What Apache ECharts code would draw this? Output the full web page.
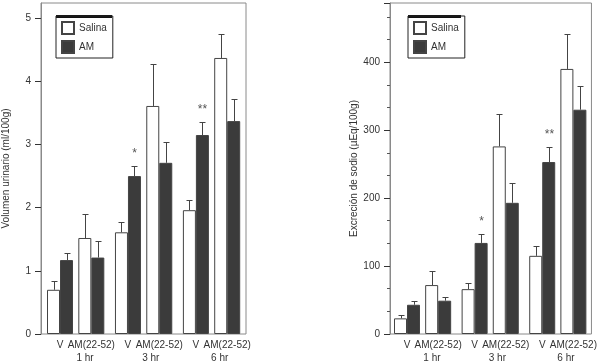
<!DOCTYPE html>
<html>
<head>
<meta charset="utf-8">
<title>Volumen urinario y excreción de sodio</title>
<script src="https://cdn.jsdelivr.net/npm/echarts@6/dist/echarts.min.js"></script>
<style>
  html, body { margin: 0; padding: 0; background: #fff; }
  #chart { width: 600px; height: 364px; }
</style>
</head>
<body>
<div id="chart"></div>
<script>
// x positions of each V / AM(22-52) pair, a little wider gap between time points
const pairLabels = ['V', 'AM(22-52)', 'V', 'AM(22-52)', 'V', 'AM(22-52)']
const pairPos = [0, 1, 2.17, 3.17, 4.34, 5.34]
const hourLabels = ['1 hr', '3 hr', '6 hr']
const hourPos = [0.8, 2.9, 5.1]

// urinary volume (ml/100g)
const volSalina = [0.70, 1.52, 1.61, 3.61, 1.96, 4.37]
const volSalinaErr = [0.14, 0.38, 0.17, 0.66, 0.16, 0.38]
const volAM = [1.17, 1.21, 2.50, 2.71, 3.15, 3.37]
const volAMErr = [0.11, 0.27, 0.16, 0.33, 0.21, 0.35]

// sodium excretion (µEq/100g)
const naSalina = [23, 72, 66, 276, 115, 390]
const naSalinaErr = [5, 20, 9, 48, 15, 51]
const naAM = [43, 49, 134, 193, 253, 330]
const naAMErr = [5, 5, 13, 29, 22, 35]

// significance marks over the AM bars
const sigMarks = ['', '', '*', '', '**', '']

const BAR_W = 13
const FONT = 'Liberation Sans, Arial, sans-serif'
const INK = '#333'
const FRAME = '#8a8a8a'

const chart = echarts.init(document.getElementById('chart'))

function barSeries(name, panel, values, fill) {
  return {
    type: 'bar',
    name: name,
    xAxisIndex: panel * 2,
    yAxisIndex: panel,
    barWidth: BAR_W,
    barGap: '0%',
    data: pairPos.map((x, i) => [x, values[i]]),
    itemStyle: { color: fill, borderColor: '#444', borderWidth: 1 },
    emphasis: { disabled: true }
  }
}

function errorSeries(name, panel, values, errs, side, marks) {
  return {
    type: 'custom',
    name: name,
    xAxisIndex: panel * 2,
    yAxisIndex: panel,
    z: 3,
    data: pairPos.map((x, i) => [x, values[i], errs[i]]),
    renderItem: function (params, api) {
      const x = api.value(0)
      const m = api.value(1)
      const e = api.value(2)
      const base = api.coord([x, m])
      const tip = api.coord([x, m + e])
      const cx = Math.round(base[0] + side * BAR_W / 2) + 0.5
      const ty = Math.round(tip[1]) + 0.5
      const stroke = { stroke: '#444', lineWidth: 1 }
      const children = [
        { type: 'line', shape: { x1: cx, y1: base[1], x2: cx, y2: ty }, style: stroke },
        { type: 'line', shape: { x1: cx - 3, y1: ty, x2: cx + 3, y2: ty }, style: stroke }
      ]
      const mark = marks && marks[params.dataIndex]
      if (mark) {
        children.push({
          type: 'text',
          style: {
            text: mark, x: cx, y: ty - 13,
            align: 'center', verticalAlign: 'middle',
            fill: '#555', font: '12px ' + FONT
          }
        })
      }
      return { type: 'group', children: children }
    }
  }
}

function xAxes(grid, min, max) {
  return [
    {
      type: 'value', gridIndex: grid, min: min, max: max, position: 'bottom',
      axisLine: { show: false, onZero: false }, axisTick: { show: false }, splitLine: { show: false },
      axisLabel: {
        customValues: pairPos,
        formatter: v => pairLabels[pairPos.findIndex(p => Math.abs(p - v) < 1e-6)],
        color: INK, fontSize: 10, fontFamily: FONT, margin: 6
      }
    },
    {
      type: 'value', gridIndex: grid, min: min, max: max, position: 'bottom',
      axisLine: { show: false, onZero: false }, axisTick: { show: false }, splitLine: { show: false },
      axisLabel: {
        customValues: hourPos,
        formatter: v => hourLabels[hourPos.findIndex(p => Math.abs(p - v) < 1e-6)],
        color: INK, fontSize: 10, fontFamily: FONT, margin: 19
      }
    }
  ]
}

function yAxis(grid, max, interval, name, minor) {
  return {
    type: 'value', gridIndex: grid, min: 0, max: max, interval: interval, position: 'left',
    name: name, nameLocation: 'middle', nameGap: 30,
    nameTextStyle: { color: INK, fontSize: 10, fontFamily: FONT },
    axisLine: { show: true, onZero: false, lineStyle: { color: FRAME } },
    splitLine: { show: false },
    axisTick: { show: true, length: 6, lineStyle: { color: '#333' } },
    minorTick: { show: minor, splitNumber: 3, length: 3, lineStyle: { color: '#555' } },
    axisLabel: { color: INK, fontSize: 10, fontFamily: FONT, margin: 10, showMaxLabel: false }
  }
}

function legendBox(left) {
  return {
    left: left, top: 16, orient: 'vertical',
    data: ['Salina', 'AM'],
    icon: 'rect', itemWidth: 12, itemHeight: 12, itemGap: 5,
    padding: [5, 6, 4, 5],
    borderColor: '#222', borderWidth: 1,
    selectedMode: false,
    textStyle: { color: INK, fontSize: 10, fontFamily: FONT }
  }
}

const option = {
  animation: false,
  textStyle: { fontFamily: FONT },
  grid: [
    { left: 41, top: 3, width: 205, height: 331, show: true, borderColor: FRAME, borderWidth: 1 },
    { left: 390, top: 3, width: 205, height: 331, show: true, borderColor: FRAME, borderWidth: 1 }
  ],
  legend: [legendBox(56), legendBox(408)],
  graphic: [
    { type: 'rect', shape: { x: 56, y: 15, width: 56, height: 3 }, style: { fill: '#111' } },
    { type: 'rect', shape: { x: 408, y: 15, width: 53, height: 3 }, style: { fill: '#111' } }
  ],
  xAxis: xAxes(0, -0.607, 5.94).concat(xAxes(1, -0.546, 5.92)),
  yAxis: [
    yAxis(0, 5.24, 1, 'Volumen urinario (ml/100g)', false),
    yAxis(1, 487, 100, 'Excreción de sodio (µEq/100g)', true)
  ],
  series: [
    barSeries('Salina', 0, volSalina, '#ffffff'),
    barSeries('AM', 0, volAM, '#3b3b3b'),
    errorSeries('Salina err', 0, volSalina, volSalinaErr, -1, null),
    errorSeries('AM err', 0, volAM, volAMErr, 1, sigMarks),
    barSeries('Salina', 1, naSalina, '#ffffff'),
    barSeries('AM', 1, naAM, '#3b3b3b'),
    errorSeries('Salina err', 1, naSalina, naSalinaErr, -1, null),
    errorSeries('AM err', 1, naAM, naAMErr, 1, sigMarks)
  ]
}

chart.setOption(option)
</script>
</body>
</html>
